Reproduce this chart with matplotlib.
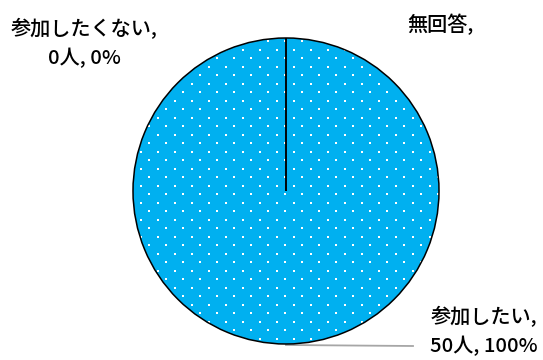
import numpy as np
import matplotlib
matplotlib.use("Agg")
import matplotlib.pyplot as plt

plt.rcParams["font.family"] = ["Noto Sans CJK JP", "DejaVu Sans"]

labels = ["参加したい", "参加したくない", "無回答"]
counts = [50, 0, 0]

W, H = 543, 360
CENTER = (286, 360 - 191)
RADIUS = 153

fig = plt.figure(figsize=(W / 100, H / 100), dpi=100)
ax = fig.add_axes([0, 0, 1, 1])

wedges, _ = ax.pie(counts, startangle=90, counterclock=False,
                   center=CENTER, radius=RADIUS, colors=["#00B0F0"] * 3,
                   wedgeprops=dict(edgecolor="black", linewidth=1.1))
ax.set_xlim(0, W)
ax.set_ylim(0, H)
ax.set_aspect("equal")
ax.axis("off")

# white dot texture inside the filled slice
gx, gy = np.meshgrid(np.arange(-4, W, 17.0), np.arange(-4, H, 17.0))
px = np.concatenate([gx.ravel(), gx.ravel() + 8.5])
py = np.concatenate([gy.ravel(), gy.ravel() + 8.5])
dots = ax.scatter(px, py, s=2.4, marker="s", color="white", linewidths=0, zorder=3)
dots.set_clip_path(wedges[0])
for w in wedges:
    w.set_zorder(4)
    w.set_facecolor("none")
ax.add_patch(plt.Circle(CENTER, RADIUS, color="#00B0F0", zorder=1, lw=0))

total = sum(counts)
texts = [f"{lab},\n{n}人, {n / total * 100:.0f}%" for lab, n in zip(labels, counts)]
texts[2] = f"{labels[2]},"

fs = 14.5
ax.text(484, 360 - 331, texts[0], ha="center", va="center", fontsize=fs,
        linespacing=1.55, fontweight="medium")
ax.text(84, 360 - 43, texts[1], ha="center", va="center", fontsize=fs,
        linespacing=1.5, fontweight="medium")
ax.text(407, 360 - 24, texts[2], ha="left", va="center", fontsize=fs,
        fontweight="medium")

# leader line for the main slice label
ax.plot([286, 413], [360 - 345, 360 - 346], color="#A6A6A6", lw=1.3, zorder=0)

fig.savefig("out.png", dpi=100)
